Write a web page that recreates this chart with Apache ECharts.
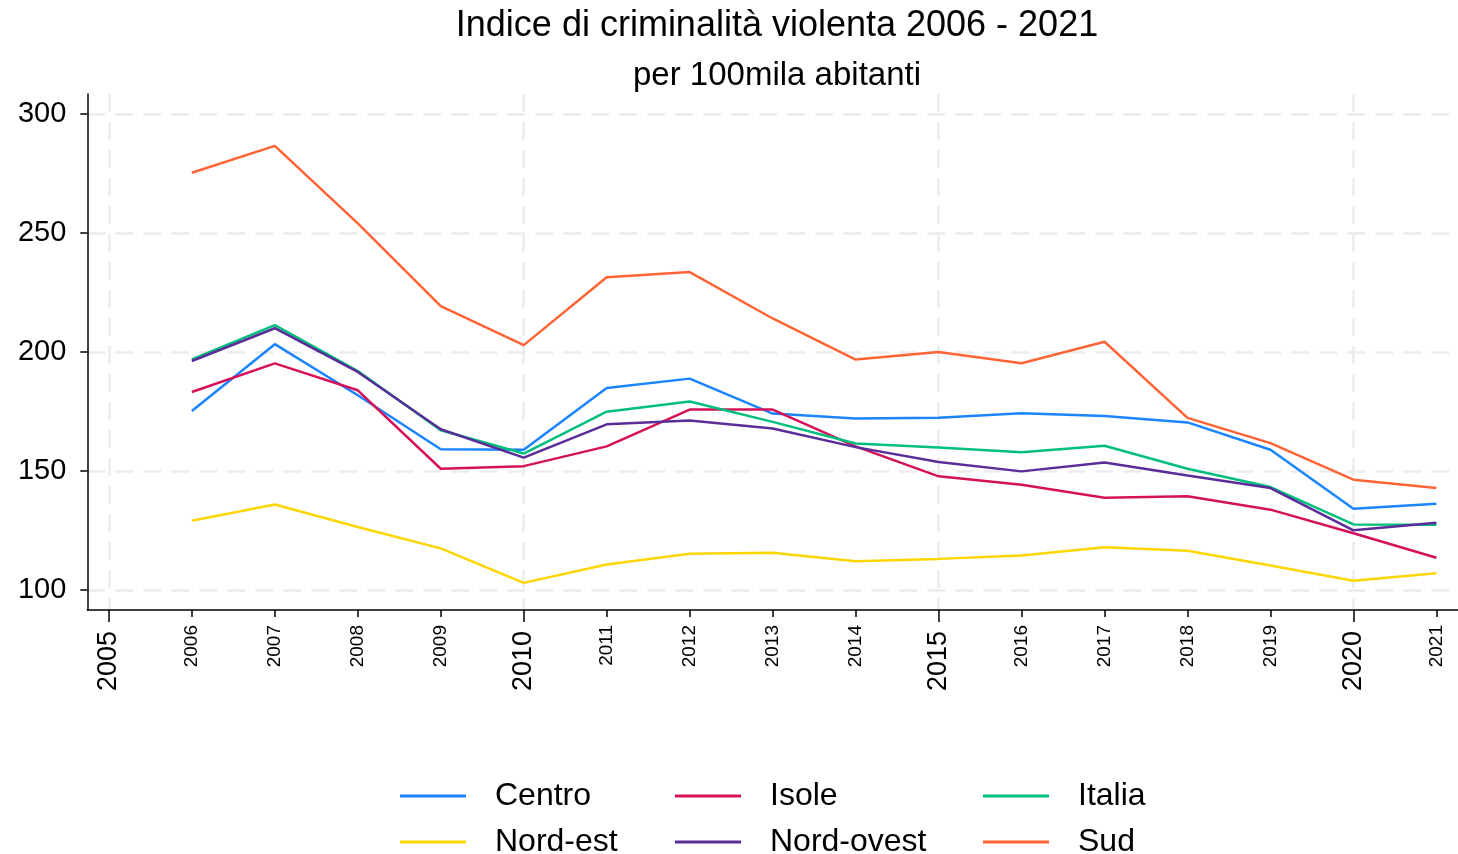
<!DOCTYPE html>
<html>
<head>
<meta charset="utf-8">
<script src="https://cdn.jsdelivr.net/npm/echarts@6/dist/echarts.min.js"></script>
<style>
html,body{margin:0;padding:0;background:#fff;}
#chart{width:1458px;height:854px;}
</style>
</head>
<body>
<div id="chart"></div>
<script>
const years = [2006,2007,2008,2009,2010,2011,2012,2013,2014,2015,2016,2017,2018,2019,2020,2021];
const majorTicks = [2005,2010,2015,2020];
const minorTicks = [2006,2007,2008,2009,2011,2012,2013,2014,2016,2017,2018,2019,2021];
const yTicks = [100,150,200,250,300];

const centro    = [175.2,203.3,181.8,159.1,158.9,184.9,188.8,174.1,172.0,172.4,174.2,173.1,170.4,158.9,134.1,136.2];
const isole     = [183.2,195.2,183.9,150.9,152.0,160.3,175.8,175.8,160.3,147.7,144.2,138.7,139.3,133.7,123.8,113.5];
const italia    = [196.9,211.3,192.0,167.1,157.3,174.9,179.2,170.6,161.5,159.8,157.8,160.6,150.9,143.2,127.5,127.4];
const nordEst   = [129.0,135.9,126.4,117.4,102.9,110.6,115.2,115.6,112.0,113.0,114.4,117.9,116.4,110.2,103.8,107.0];
const nordOvest = [196.2,210.0,191.6,167.5,155.6,169.6,171.2,167.8,160.0,153.7,149.8,153.5,148.1,142.8,125.0,128.2];
const sud       = [275.4,286.7,254.1,219.3,202.9,231.4,233.6,214.1,196.8,200.0,195.3,204.3,172.3,161.7,146.3,142.8];

const seriesNames = ['Centro','Isole','Italia','Nord-est','Nord-ovest','Sud'];
const seriesData = [centro, isole, italia, nordEst, nordOvest, sud];
const colors = ['#1A85FF','#D41159','#00BF7D','#FFD500','#5A2D98','#FE6436'];

// legend layout: [name, left, row]
const legendLayout = [
  ['Centro',400,0],['Isole',675,0],['Italia',983,0],
  ['Nord-est',400,1],['Nord-ovest',675,1],['Sud',983,1]
];

const FONT = 'Liberation Sans';
const chart = echarts.init(document.getElementById('chart'), null, {renderer:'canvas'});

const gridLine = {show:true, lineStyle:{color:'#ececec', width:2.5, type:[18,10]}};
const yearFmt = v => String(v);

const option = {
  animation:false,
  color: colors,
  textStyle:{fontFamily:FONT},
  title:[
    {text:'Indice di criminalità violenta 2006 - 2021', left:772, textAlign:'center', top:3,
     textStyle:{fontFamily:FONT, fontSize:36, fontWeight:'normal', color:'#000'}},
    {text:'per 100mila abitanti', left:772, textAlign:'center', top:54,
     textStyle:{fontFamily:FONT, fontSize:33, fontWeight:'normal', color:'#000'}}
  ],
  legend: legendLayout.map(([n,l,r]) => ({
    left:l, top:779 + r*46, icon:'rect', itemWidth:66, itemHeight:3,
    selectedMode:false, data:[n], padding:0,
    textStyle:{fontFamily:FONT, fontSize:32, color:'#000', lineHeight:34, padding:[0,0,0,24]}
  })),
  grid:{left:87.3, right:0, top:94, bottom:244, containLabel:false},
  xAxis:[
    {type:'value', min:2004.74, max:2021.26, position:'bottom',
     axisLine:{show:true, lineStyle:{color:'#000', width:1.5}},
     axisTick:{show:true, customValues:majorTicks, length:12, lineStyle:{color:'#000', width:1.5}},
     axisLabel:{show:true, customValues:majorTicks, formatter:yearFmt, rotate:90, fontSize:27, color:'#000', margin:21, fontFamily:FONT},
     splitLine:gridLine},
    {type:'value', min:2004.74, max:2021.26, position:'bottom', offset:0,
     axisLine:{show:false},
     axisTick:{show:true, customValues:minorTicks, length:7, lineStyle:{color:'#000', width:1.5}},
     axisLabel:{show:true, customValues:minorTicks, formatter:yearFmt, rotate:90, fontSize:19, color:'#000', margin:15, fontFamily:FONT},
     splitLine:{show:false}}
  ],
  yAxis:{type:'value', min:91.5, max:308.5,
     axisLine:{show:true, lineStyle:{color:'#000', width:1.5}},
     axisTick:{show:true, customValues:yTicks, length:7, lineStyle:{color:'#000', width:1.5}},
     axisLabel:{show:true, customValues:yTicks, fontSize:29, color:'#000', margin:21, fontFamily:FONT},
     splitLine:gridLine},
  series: seriesNames.map((n,i)=>({
    name:n, type:'line', xAxisIndex:0, showSymbol:false, symbol:'none',
    lineStyle:{width:2.5, color:colors[i]}, itemStyle:{color:colors[i]},
    data: years.map((y,j)=>[y, seriesData[i][j]])
  }))
};
chart.setOption(option);
</script>
</body>
</html>
